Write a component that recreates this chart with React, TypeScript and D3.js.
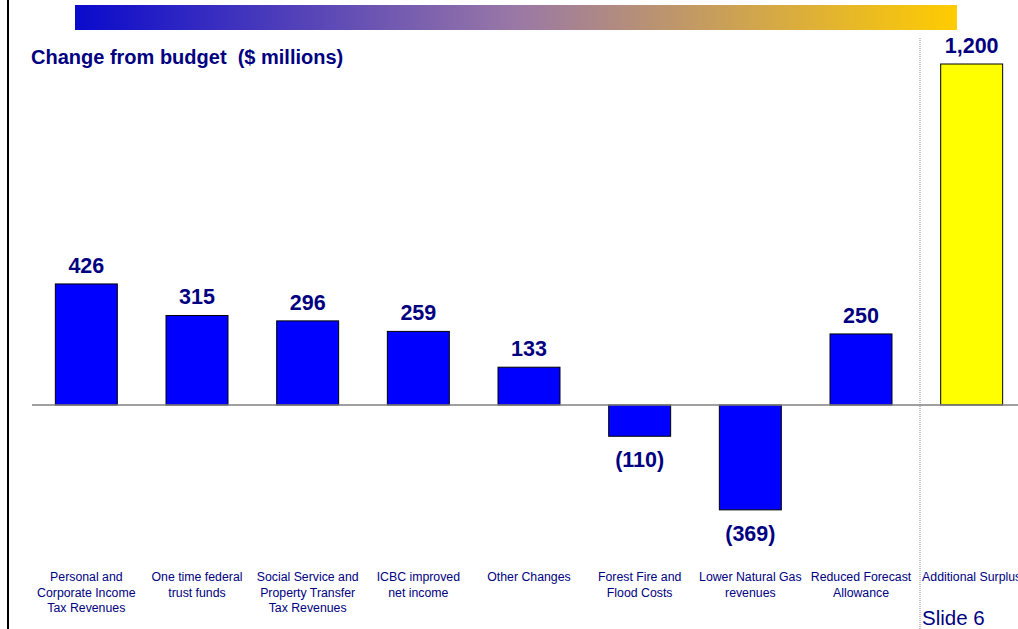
import React, { useEffect, useRef } from "react";
import * as d3 from "d3";

const categories = [
  ["Personal and", "Corporate Income", "Tax Revenues"],
  ["One time federal", "trust funds"],
  ["Social Service and", "Property Transfer", "Tax Revenues"],
  ["ICBC improved", "net income"],
  ["Other Changes"],
  ["Forest Fire and", "Flood Costs"],
  ["Lower Natural Gas", "revenues"],
  ["Reduced Forecast", "Allowance"],
  ["Additional Surplus"],
];
const values = [426, 315, 296, 259, 133, -110, -369, 250, 1200];
const barColors = ["#0000ff", "#0000ff", "#0000ff", "#0000ff", "#0000ff", "#0000ff", "#0000ff", "#0000ff", "#ffff00"];

const W = 1018;
const H = 629;
const NAVY = "#000080";

const fmt = (v: number) => (v < 0 ? `(${d3.format(",")(-v)})` : d3.format(",")(v));

const App: React.FC = () => {
  const ref = useRef<SVGSVGElement>(null);

  useEffect(() => {
    if (!ref.current) return;
    const svg = d3.select(ref.current);
    svg.selectAll("*").remove();

    const idx = values.map((_, i) => i);
    const x = d3.scaleBand<number>().domain(idx).range([31, 1027]).paddingInner(0.44).paddingOuter(0.22);
    const y = d3.scaleLinear().domain([0, 1200]).range([405, 64]);

    // header gradient bar
    const defs = svg.append("defs");
    const grad = defs.append("linearGradient").attr("id", "hdr").attr("x1", "0%").attr("x2", "100%");
    grad.append("stop").attr("offset", "0%").attr("stop-color", "#0a0acc");
    grad.append("stop").attr("offset", "50%").attr("stop-color", "#9a78a6");
    grad.append("stop").attr("offset", "100%").attr("stop-color", "#ffcc00");
    svg.append("rect").attr("x", 75).attr("y", 5).attr("width", 882).attr("height", 25).attr("fill", "url(#hdr)");

    // left border
    svg.append("line").attr("x1", 8).attr("x2", 8).attr("y1", 0).attr("y2", H)
      .attr("stroke", "#000").attr("stroke-width", 2);

    // title
    svg.append("text").attr("x", 31).attr("y", 64)
      .style("font-family", "Arial, 'Liberation Sans', sans-serif")
      .style("font-size", "20px").style("font-weight", "bold").style("fill", NAVY)
      .attr("xml:space", "preserve")
      .text("Change from budget  ($ millions)");

    // dotted divider
    svg.append("line").attr("x1", 920).attr("x2", 920).attr("y1", 38).attr("y2", H)
      .attr("stroke", "#888").attr("stroke-width", 1).attr("stroke-dasharray", "1,1");

    // bars
    svg.selectAll("rect.bar").data(values).enter().append("rect")
      .attr("class", "bar")
      .attr("x", (_d, i) => x(i)!)
      .attr("width", x.bandwidth())
      .attr("y", d => y(Math.max(0, d)))
      .attr("height", d => Math.abs(y(d) - y(0)))
      .attr("fill", (_d, i) => barColors[i])
      .attr("stroke", "#000").attr("stroke-width", 1);

    // zero line
    svg.append("line").attr("x1", 32).attr("x2", W).attr("y1", y(0)).attr("y2", y(0))
      .attr("stroke", "#808080").attr("stroke-width", 1.5);

    // value labels
    svg.selectAll("text.val").data(values).enter().append("text")
      .attr("class", "val")
      .attr("x", (_d, i) => x(i)! + x.bandwidth() / 2)
      .attr("y", d => (d >= 0 ? y(d) - 11 : y(d) + 31))
      .attr("text-anchor", "middle")
      .style("font-family", "Arial, 'Liberation Sans', sans-serif")
      .style("font-size", "21.5px").style("font-weight", "bold").style("fill", NAVY)
      .text(d => fmt(d));

    // category labels
    const cat = svg.selectAll("text.cat").data(categories).enter().append("text")
      .attr("class", "cat")
      .attr("text-anchor", "middle")
      .style("font-family", "Arial, 'Liberation Sans', sans-serif")
      .style("font-size", "12.3px").style("fill", NAVY);
    cat.each(function (lines, i) {
      const t = d3.select(this);
      lines.forEach((ln, j) => {
        t.append("tspan").attr("x", x(i)! + x.bandwidth() / 2).attr("y", 581 + j * 15.5).text(ln);
      });
    });

    svg.append("text").attr("x", 922).attr("y", 625)
      .style("font-family", "Arial, 'Liberation Sans', sans-serif")
      .style("font-size", "20.5px").style("fill", NAVY)
      .text("Slide 6");
  }, []);

  return (
    <svg ref={ref} width={W} height={H}
      style={{ position: "absolute", left: 0, top: 0, background: "#fff" }} />
  );
};

export default App;
